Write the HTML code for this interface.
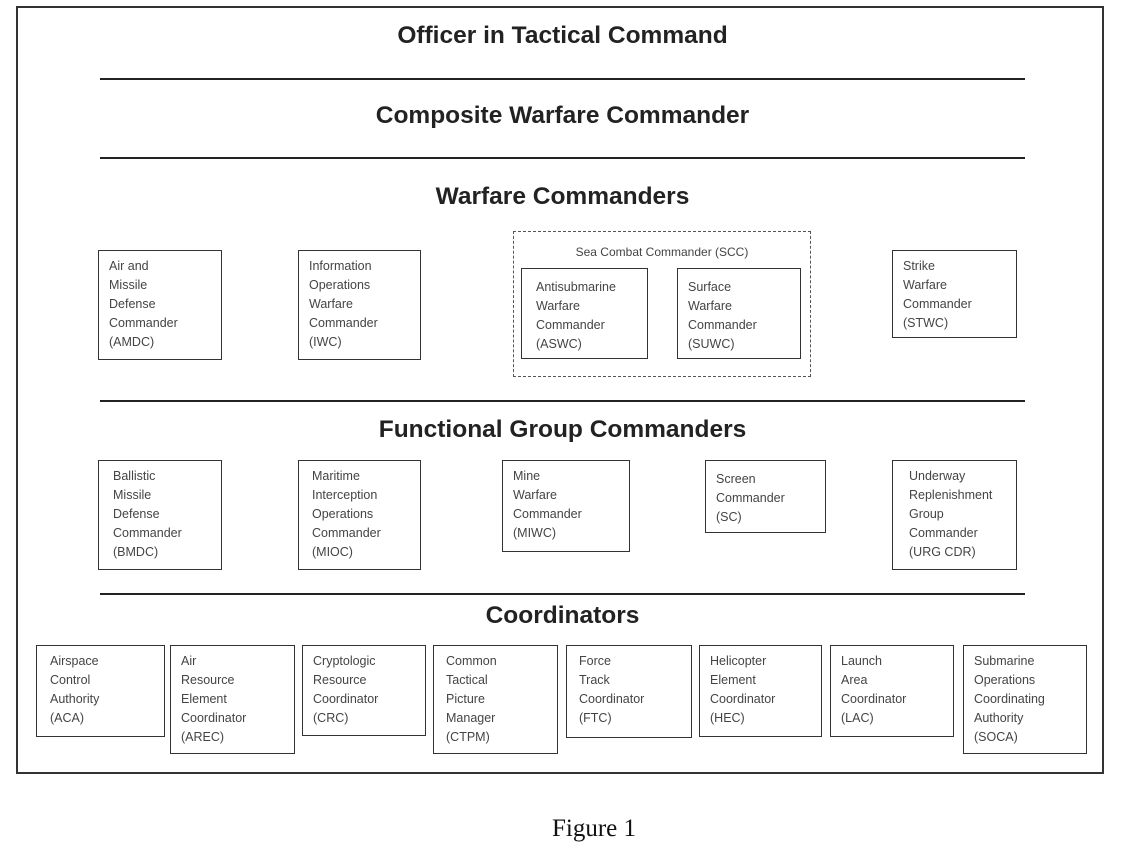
<!DOCTYPE html>
<html><head><meta charset="utf-8"><style>
body{margin:0;width:1133px;height:858px;background:#fff;position:relative;font-family:"Liberation Sans",sans-serif;overflow:hidden}
.o{position:absolute;left:16px;top:6px;width:1084px;height:764px;border:2px solid #333}
.l{position:absolute;left:100px;width:925px;height:2px;background:#222}
.t{position:absolute;left:-4px;width:1133px;text-align:center;font-weight:bold;font-size:24.5px;color:#222}
.b{position:absolute;border:1.5px solid #333;box-sizing:border-box;padding:6px 0 0 10px;font-size:12.5px;line-height:19px;color:#444}
.d{position:absolute;border:1.5px dashed #555;box-sizing:border-box;font-size:12px;color:#444;text-align:center;padding-top:13px}
</style></head><body>
<div class="o"></div>
<div class="t" style="top:22px">Officer in Tactical Command</div>
<div class="l" style="top:78px"></div>
<div class="t" style="top:102px">Composite Warfare Commander</div>
<div class="l" style="top:157px"></div>
<div class="t" style="top:183px">Warfare Commanders</div>
<div class="b" style="left:98px;top:250px;width:124px;height:110px">Air and<br>Missile<br>Defense<br>Commander<br>(AMDC)</div>
<div class="b" style="left:298px;top:250px;width:123px;height:110px">Information<br>Operations<br>Warfare<br>Commander<br>(IWC)</div>
<div class="d" style="left:513px;top:231px;width:298px;height:146px">Sea Combat Commander (SCC)</div>
<div class="b" style="left:521px;top:268px;width:127px;height:91px;padding-top:9px;padding-left:14px">Antisubmarine<br>Warfare<br>Commander<br>(ASWC)</div>
<div class="b" style="left:677px;top:268px;width:124px;height:91px;padding-top:9px">Surface<br>Warfare<br>Commander<br>(SUWC)</div>
<div class="b" style="left:892px;top:250px;width:125px;height:88px">Strike<br>Warfare<br>Commander<br>(STWC)</div>
<div class="l" style="top:400px"></div>
<div class="t" style="top:416px">Functional Group Commanders</div>
<div class="b" style="left:98px;top:460px;width:124px;height:110px;padding-left:14px">Ballistic<br>Missile<br>Defense<br>Commander<br>(BMDC)</div>
<div class="b" style="left:298px;top:460px;width:123px;height:110px;padding-left:13px">Maritime<br>Interception<br>Operations<br>Commander<br>(MIOC)</div>
<div class="b" style="left:502px;top:460px;width:128px;height:92px">Mine<br>Warfare<br>Commander<br>(MIWC)</div>
<div class="b" style="left:705px;top:460px;width:121px;height:73px;padding-top:9px">Screen<br>Commander<br>(SC)</div>
<div class="b" style="left:892px;top:460px;width:125px;height:110px;padding-left:16px">Underway<br>Replenishment<br>Group<br>Commander<br>(URG CDR)</div>
<div class="l" style="top:593px"></div>
<div class="t" style="top:602px">Coordinators</div>
<div class="b" style="left:36px;top:645px;width:129px;height:92px;padding-left:13px">Airspace<br>Control<br>Authority<br>(ACA)</div>
<div class="b" style="left:170px;top:645px;width:125px;height:109px">Air<br>Resource<br>Element<br>Coordinator<br>(AREC)</div>
<div class="b" style="left:302px;top:645px;width:124px;height:91px">Cryptologic<br>Resource<br>Coordinator<br>(CRC)</div>
<div class="b" style="left:433px;top:645px;width:125px;height:109px;padding-left:12px">Common<br>Tactical<br>Picture<br>Manager<br>(CTPM)</div>
<div class="b" style="left:566px;top:645px;width:126px;height:93px;padding-left:12px">Force<br>Track<br>Coordinator<br>(FTC)</div>
<div class="b" style="left:699px;top:645px;width:123px;height:92px">Helicopter<br>Element<br>Coordinator<br>(HEC)</div>
<div class="b" style="left:830px;top:645px;width:124px;height:92px">Launch<br>Area<br>Coordinator<br>(LAC)</div>
<div class="b" style="left:963px;top:645px;width:124px;height:109px">Submarine<br>Operations<br>Coordinating<br>Authority<br>(SOCA)</div>
<div style="position:absolute;left:0;width:1188px;top:815px;text-align:center;font-family:'Liberation Serif',serif;font-size:25px;color:#111">Figure 1</div>
</body></html>
